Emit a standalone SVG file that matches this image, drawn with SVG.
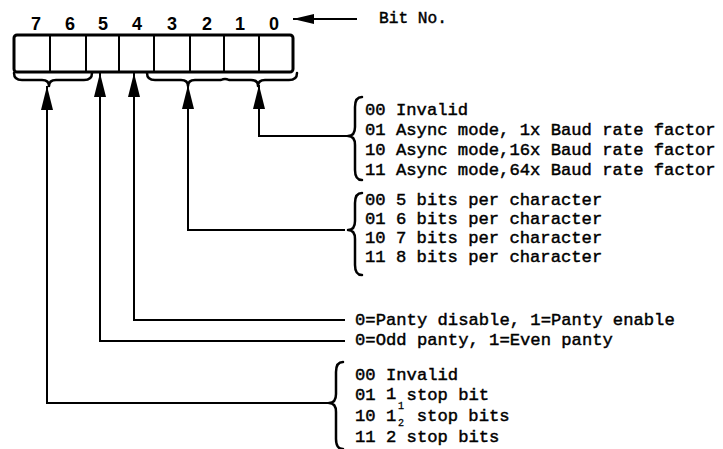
<svg xmlns="http://www.w3.org/2000/svg" width="723" height="449" viewBox="0 0 723 449">
<defs>
<marker id="arr" markerUnits="userSpaceOnUse" viewBox="0 0 24 12" refX="24" refY="6" markerWidth="24" markerHeight="12" orient="auto">
<path d="M0,0 L24,6 L0,12 z" fill="#000"/>
</marker>
<marker id="arrS" markerUnits="userSpaceOnUse" viewBox="0 0 21 10" refX="21" refY="5" markerWidth="21" markerHeight="10" orient="auto">
<path d="M0,0 L21,5 L0,10 z" fill="#000"/>
</marker>
<style>
.dig{font-family:"Liberation Sans",Arial,sans-serif;font-weight:bold;font-size:18px;text-anchor:middle;fill:#000}
.t{font-family:"Liberation Mono","Courier New",monospace;font-size:17.2px;fill:#000;stroke:#000;stroke-width:0.45}
.s{font-family:"Liberation Mono","Courier New",monospace;font-size:10px;fill:#000;stroke:#000;stroke-width:0.3}
.ln{fill:none;stroke:#000;stroke-width:2;stroke-linejoin:miter}
.br{fill:none;stroke:#000;stroke-width:2.5;stroke-linecap:round;stroke-linejoin:round}
</style>
</defs>
<g id="register">
<rect x="14" y="35" width="279" height="37" rx="3" fill="#fff" stroke="#000" stroke-width="3"/>
<g stroke="#000" stroke-width="2">
<line x1="50" y1="35" x2="50" y2="72"/>
<line x1="86" y1="35" x2="86" y2="72"/>
<line x1="119" y1="35" x2="119" y2="72"/>
<line x1="154" y1="35" x2="154" y2="72"/>
<line x1="190" y1="35" x2="190" y2="72"/>
<line x1="224" y1="35" x2="224" y2="72"/>
<line x1="259" y1="35" x2="259" y2="72"/>
</g>
<text class="dig" x="36" y="30">7</text>
<text class="dig" x="70" y="30">6</text>
<text class="dig" x="103" y="30">5</text>
<text class="dig" x="137" y="30">4</text>
<text class="dig" x="172" y="30">3</text>
<text class="dig" x="207" y="30">2</text>
<text class="dig" x="240" y="30">1</text>
<text class="dig" x="274" y="30">0</text>
<path class="br" d="M14,73 Q14,80 22,80 L42,80 Q49,80 49,86 Q49,80 56,80 L84,80 Q92,80 92,73"/>
<path class="br" d="M147,73 Q147,80 155,80 L181,80 Q188,80 188,86 Q188,80 195,80 L221,80 Q225,78 229,80 L251,80 Q258,80 258,86 Q258,80 265,80 L289,80 Q297,80 297,73"/>
</g>
<g id="bitno">
<text class="t" x="379" y="23" style="font-size:16.2px">Bit No.</text>
</g>
<g id="mode">
<path class="br" d="M362,97 Q355,97 355,107 L355,127 Q355,136 348,136 Q355,136 355,145 L355,170 Q355,180 362,180"/>
<text class="t" x="365" y="115">00 Invalid</text>
<text class="t" x="365" y="135">01 Async mode, 1x Baud rate factor</text>
<text class="t" x="365" y="155">10 Async mode,16x Baud rate factor</text>
<text class="t" x="365" y="175">11 Async mode,64x Baud rate factor</text>
</g>
<g id="charlen">
<path class="br" d="M362,193 Q355,193 355,203 L355,221 Q355,230 348,230 Q355,230 355,239 L355,265 Q355,275 362,275"/>
<text class="t" x="365" y="205">00 5 bits per character</text>
<text class="t" x="365" y="224">01 6 bits per character</text>
<text class="t" x="365" y="243">10 7 bits per character</text>
<text class="t" x="365" y="262">11 8 bits per character</text>
</g>
<g id="parityen">
<text class="t" x="355" y="325">0=Panty disable, 1=Panty enable</text>
</g>
<g id="paritytype">
<text class="t" x="355" y="345">0=Odd panty, 1=Even panty</text>
</g>
<g id="stopbits">
<path class="br" d="M343,362 Q336,362 336,372 L336,394 Q336,403 329,403 Q336,403 336,412 L336,439 Q336,449 343,449"/>
<text class="t" x="355" y="380">00 Invalid</text>
<text class="t" x="355" y="400">01 <tspan dy="-1">1</tspan><tspan dy="1" x="406.6">stop bit</tspan></text>
<text class="s" x="398" y="409">1</text>
<text class="t" x="355" y="421">10 1</text>
<text class="s" x="398" y="426">2</text>
<text class="t" x="416.8" y="421">stop bits</text>
<text class="t" x="355" y="442">11 2 stop bits</text>
</g>
<g id="connectors">
<path class="ln" d="M310,19 H357" />
<path class="ln" d="M357,19 H293" marker-end="url(#arrS)"/>
<path class="ln" d="M348,136 H259 V85" marker-end="url(#arr)"/>
<path class="ln" d="M345,230 H188 V85" marker-end="url(#arr)"/>
<path class="ln" d="M345,320 H134 V73" marker-end="url(#arr)"/>
<path class="ln" d="M345,341 H100 V73" marker-end="url(#arr)"/>
<path class="ln" d="M329,403 H47 V86" marker-end="url(#arr)"/>
</g>
</svg>
